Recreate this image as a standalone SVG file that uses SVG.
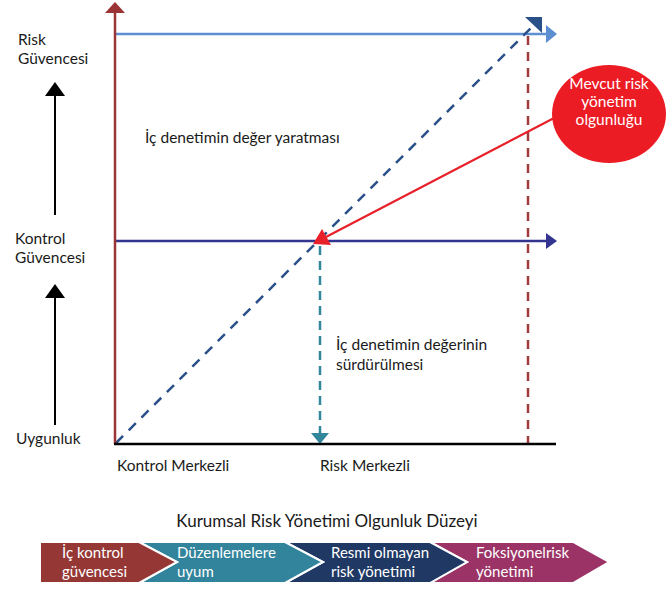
<svg xmlns="http://www.w3.org/2000/svg" width="667" height="589" viewBox="0 0 667 589">
  <style>
    text { font-family: Lato, "Open Sans", "Noto Sans", sans-serif; }
    .lbl { font-size: 15.5px; fill: #1a1a1a; }
    .wht { font-size: 15px; fill: #ffffff; }
    .bub { font-size: 15.5px; fill: #ffffff; }
    .ttl { font-size: 17px; fill: #1a1a1a; }
    .chev { stroke: #ffffff; stroke-width: 2; }
  </style>

  <!-- connectors -->
  <g id="connectors" fill="none">
    <!-- left scale arrows -->
    <line x1="55" y1="215" x2="55" y2="94" stroke="#000" stroke-width="2"/>
    <path d="M45,96 L55,82 L65,96 z" fill="#000"/>
    <line x1="55" y1="425" x2="55" y2="296" stroke="#000" stroke-width="2"/>
    <path d="M45,298 L55,284 L65,298 z" fill="#000"/>

    <!-- risk assurance level -->
    <line x1="116" y1="34" x2="548" y2="34" stroke="#5b8fd2" stroke-width="2.5"/>
    <path d="M546,25 L557,34 L546,43 z" fill="#5b8fd2"/>

    <!-- mature level dashed marker -->
    <line x1="528" y1="36" x2="528" y2="443" stroke="#a33a3a" stroke-width="2.5" stroke-dasharray="9,7"/>

    <!-- control assurance level -->
    <line x1="116" y1="241" x2="548" y2="241" stroke="#33348f" stroke-width="2.5"/>
    <path d="M546,233 L557,241 L546,249 z" fill="#33348f"/>

    <!-- value creation diagonal -->
    <line x1="116" y1="443" x2="532" y2="27" stroke="#2a5089" stroke-width="2.5" stroke-dasharray="10,8"/>
    <path d="M525,17 L542,17 L542,33 z" fill="#2a5089"/>

    <!-- sustaining value -->
    <line x1="320" y1="246" x2="320" y2="434" stroke="#31869b" stroke-width="2.5" stroke-dasharray="9,6"/>
    <path d="M311,433 L329,433 L320,444 z" fill="#31869b"/>

    <!-- current maturity pointer -->
    <line x1="556" y1="117" x2="324" y2="238" stroke="#e8202a" stroke-width="2.2"/>
    <path d="M313,244 L322,229 L331,245 z" fill="#e8202a"/>

    <!-- axes -->
    <line x1="115" y1="444" x2="115" y2="12" stroke="#9b3535" stroke-width="2.5"/>
    <path d="M105,13 L115,2 L125,13 z" fill="#9b3535"/>
    <line x1="114" y1="444" x2="556" y2="444" stroke="#000" stroke-width="2.5"/>
  </g>

  <!-- axis labels -->
  <g id="y-labels">
    <text class="lbl" x="18" y="45">Risk</text>
    <text class="lbl" x="18" y="64">Güvencesi</text>
    <text class="lbl" x="15" y="244">Kontrol</text>
    <text class="lbl" x="15" y="263">Güvencesi</text>
    <text class="lbl" x="16" y="444">Uygunluk</text>
  </g>
  <g id="x-labels">
    <text class="lbl" x="117" y="471">Kontrol Merkezli</text>
    <text class="lbl" x="320" y="471">Risk Merkezli</text>
  </g>

  <g id="value-creation">
    <text class="lbl" x="145" y="143">İç denetimin değer yaratması</text>
  </g>
  <g id="value-sustain">
    <text class="lbl" x="336" y="350">İç denetimin değerinin</text>
    <text class="lbl" x="336" y="370">sürdürülmesi</text>
  </g>

  <g id="current-maturity">
    <ellipse cx="609" cy="114" rx="57" ry="49" fill="#ec1c24"/>
    <text class="bub" x="609" y="89" text-anchor="middle">Mevcut risk</text>
    <text class="bub" x="609" y="107" text-anchor="middle">yönetim</text>
    <text class="bub" x="609" y="125" text-anchor="middle">olgunluğu</text>
  </g>

  <!-- maturity scale -->
  <g id="maturity-title">
    <text class="ttl" x="327" y="527" text-anchor="middle">Kurumsal Risk Yönetimi Olgunluk Düzeyi</text>
  </g>
  <g id="stage-4">
    <polygon class="chev" points="430,542 573,542 609,562 573,583 430,583 467,562" fill="#9b3366"/>
    <text class="wht" x="476" y="558">Foksiyonelrisk</text>
    <text class="wht" x="476" y="577">yönetimi</text>
  </g>
  <g id="stage-3">
    <polygon class="chev" points="285,542 430,542 467,562 430,583 285,583 323,562" fill="#1f3864"/>
    <text class="wht" x="331" y="558">Resmi olmayan</text>
    <text class="wht" x="331" y="577">risk yönetimi</text>
  </g>
  <g id="stage-2">
    <polygon class="chev" points="139,542 285,542 323,562 285,583 139,583 177,562" fill="#31849b"/>
    <text class="wht" x="177" y="558">Düzenlemelere</text>
    <text class="wht" x="177" y="577">uyum</text>
  </g>
  <g id="stage-1">
    <polygon class="chev" points="40,542 139,542 177,562 139,583 40,583" fill="#953735"/>
    <text class="wht" x="62" y="558">İç kontrol</text>
    <text class="wht" x="62" y="577">güvencesi</text>
  </g>
</svg>
